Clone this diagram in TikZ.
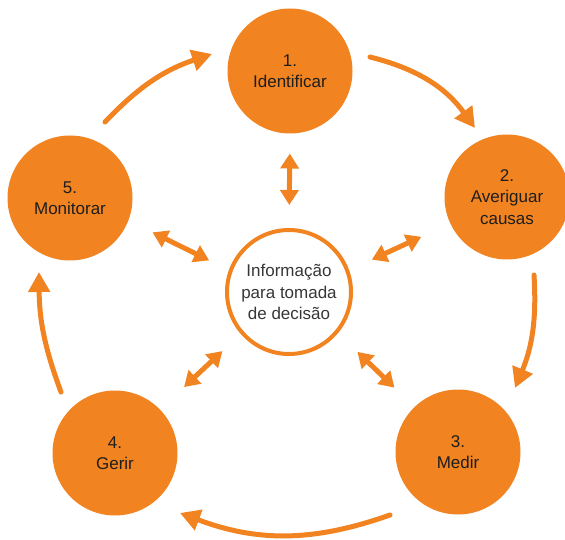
\documentclass[tikz,border=0pt]{standalone}
\usepackage{fontspec}
\setmainfont{Liberation Sans}
\usetikzlibrary{arrows.meta}
\definecolor{orng}{RGB}{241,131,33}
\definecolor{ink}{RGB}{30,30,30}
\definecolor{hubink}{RGB}{55,55,55}
\begin{document}
\begin{tikzpicture}[x=1pt,y=-1pt,
  label font/.style={font=\fontsize{17}{21.5}\selectfont},
  stage/.style={circle,fill=orng,minimum size=125pt,inner sep=0pt,outer sep=0pt,
    text=ink,align=center,label font},
  hub/.style={circle,draw=orng,line width=4pt,fill=white,minimum size=124pt,
    inner sep=0pt,outer sep=2pt,text=hubink,align=center,label font},
  cycle/.style={draw=orng,line width=5pt,line cap=round,
    -{Triangle[length=20pt,width=21pt]}},
  link/.style={draw=orng,line width=5pt,
    {Triangle[length=15pt,width=18pt]}-{Triangle[length=15pt,width=18pt]}}
]
\useasboundingbox (0,0) rectangle (565,540);

% the five stages and the central hub
\node[stage] (c1) at (290,71)  {1.\\Identificar};
\node[stage] (c2) at (507,197) {2.\\Averiguar\\causas};
\node[stage] (c3) at (458,452) {3.\\Medir};
\node[stage] (c4) at (115,453) {4.\\Gerir};
\node[stage] (c5) at (70,198)  {5.\\Monitorar};
\node[hub]   (c0) at (289,292) {Informação\\para tomada\\de decisão};

% ends of the curved cycle arrows
\coordinate (a12s) at (370,57);  \coordinate (a12e) at (475,128);
\coordinate (a23s) at (534,275); \coordinate (a23e) at (515,388);
\coordinate (a34s) at (390,515); \coordinate (a34e) at (180,513);
\coordinate (a45s) at (61,392);  \coordinate (a45e) at (39,272);
\coordinate (a51s) at (105,122); \coordinate (a51e) at (212,54);

% clockwise cycle
\draw[cycle] (a12s) to[bend left=20] (a12e);
\draw[cycle] (a23s) to[bend left=13] (a23e);
\draw[cycle] (a34s) to[bend left=20] (a34e);
\draw[cycle] (a45s) to[bend left=10] (a45e);
\draw[cycle] (a51s) to[bend left=14] (a51e);

% exchanges between each stage and the hub
\draw[link,shorten <=20pt,shorten >=23pt] (c1.-90) -- (c0.90);
\draw[link,shorten <=32pt,shorten >=25pt] (c2.205) -- (c0.20);
\draw[link,shorten <=28pt,shorten >=27pt] (c3.134) -- (c0.-40);
\draw[link,shorten <=33pt,shorten >=25pt] (c4.44) -- (c0.221);
\draw[link,shorten <=27pt,shorten >=22pt] (c5.-21) -- (c0.160);
\end{tikzpicture}
\end{document}
